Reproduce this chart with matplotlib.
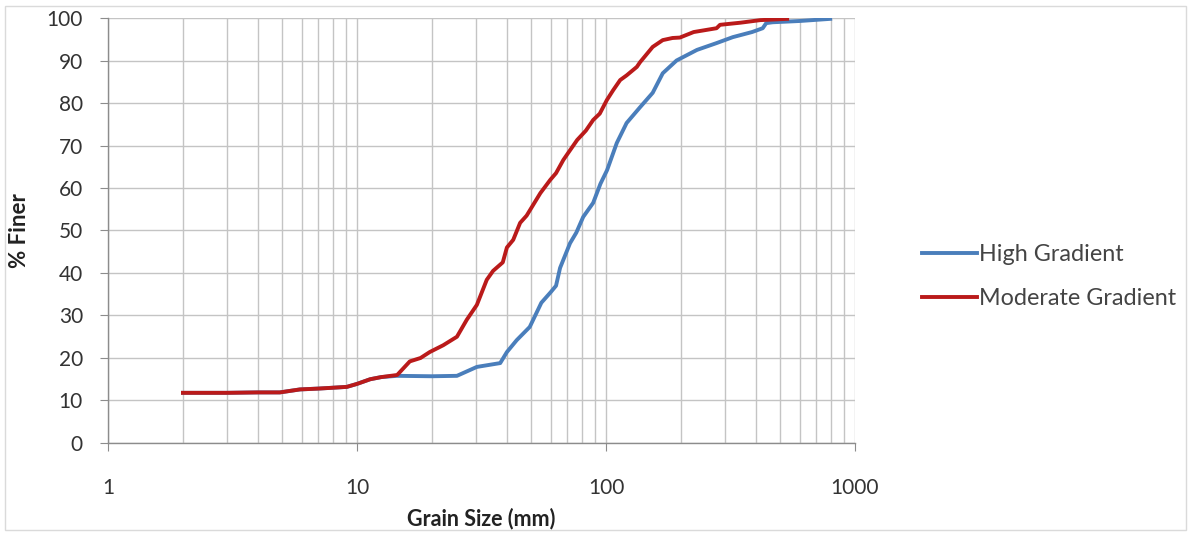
import matplotlib.pyplot as plt
import numpy as np
from matplotlib.patches import Rectangle
from matplotlib.ticker import FixedLocator, NullFormatter

plt.rcParams['font.family'] = ['Lato', 'DejaVu Sans']

# grain size distribution, moderate gradient reach
mod_size = [2, 3, 4, 4.9, 5.9, 7, 8, 9.1, 10, 11.3, 12.5, 14.5, 16.3, 18, 19.6, 22.2, 25.2,
            27.6, 30.3, 33.2, 35.2, 38.5, 40, 42.4, 45.2, 48, 54.5, 59.7, 63, 67.4, 70,
            76.6, 83, 88.8, 94.4, 100.8, 106.8, 114, 121, 133, 137, 154, 169, 185, 198,
            225, 278, 287, 347, 416, 534]
mod_finer = [11.8, 11.8, 11.9, 11.9, 12.6, 12.8, 13.0, 13.2, 13.9, 15.0, 15.5, 16.0, 19.2, 20.0,
             21.4, 23.0, 25.0, 29.0, 32.5, 38.4, 40.5, 42.5, 46.0, 47.8, 51.8, 53.5, 58.8, 61.9,
             63.5, 66.6, 68.0, 71.3, 73.5, 76.0, 77.5, 80.7, 83.0, 85.4, 86.5, 88.5, 89.6,
             93.2, 94.8, 95.3, 95.4, 96.7, 97.6, 98.4, 98.9, 99.5, 99.8]

# grain size distribution, high gradient reach
high_size = [2, 3, 4, 4.9, 5.9, 7, 8, 9.1, 10, 11.3, 12.5, 14.5, 20, 25.2, 30.3, 37.6, 40,
             43.8, 49.4, 55, 60, 63, 65.4, 71.7, 76, 81, 88.8, 95, 101, 110.5, 121, 137,
             154, 169, 192, 232, 278, 323, 386, 426, 440, 467, 600, 795]
high_finer = [11.8, 11.8, 11.9, 11.9, 12.6, 12.8, 13.0, 13.2, 13.9, 15.0, 15.5, 15.8, 15.7, 15.8,
              17.9, 18.8, 21.4, 24.2, 27.3, 33.0, 35.5, 37.0, 41.2, 47.0, 49.5, 53.2, 56.5,
              61.0, 64.2, 70.6, 75.3, 79.0, 82.4, 87.0, 90.0, 92.5, 94.1, 95.5, 96.7, 97.6,
              98.8, 99.0, 99.3, 99.8]

fig = plt.figure(figsize=(11.88, 5.33), dpi=100)
ax = fig.add_axes([0.0909, 0.1689, 0.6288, 0.7973])

ax.plot(high_size, high_finer, color='#4A7EBB', lw=2.8, label='High Gradient', solid_joinstyle='round')
ax.plot(mod_size, mod_finer, color='#BA1A1A', lw=2.8, label='Moderate Gradient', solid_joinstyle='round')

ax.set_xscale('log')
ax.set_xlim(1, 1000)
ax.set_ylim(0, 100)
ax.set_yticks(np.arange(0, 101, 10))
ax.set_xticks([1, 10, 100, 1000])
ax.set_xticklabels(['1', '10', '100', '1000'])
minors = [m * d for d in [1, 10, 100] for m in range(2, 10)]
ax.xaxis.set_minor_locator(FixedLocator(minors))
ax.xaxis.set_minor_formatter(NullFormatter())

ax.grid(True, which='both', color='#c4c4c4', lw=1.0)
ax.set_axisbelow(True)
for s in ['top', 'right']:
    ax.spines[s].set_visible(False)
for s in ['left', 'bottom']:
    ax.spines[s].set_color('#8c8c8c')
    ax.spines[s].set_linewidth(1.0)

ax.tick_params(axis='y', direction='out', length=6, color='#8c8c8c', labelsize=15,
               labelcolor='#333333', pad=12)
ax.tick_params(axis='x', which='major', direction='out', length=6, color='#8c8c8c',
               labelsize=15, labelcolor='#333333', pad=19)
ax.tick_params(axis='x', which='minor', length=0)

ax.set_xlabel('Grain Size (mm)', fontsize=15.5, fontweight='bold', color='#222222', labelpad=7)
ax.set_ylabel('% Finer', fontsize=16, fontweight='bold', color='#222222', labelpad=12)

leg = ax.legend(loc='center left', bbox_to_anchor=(1.062, 0.392), frameon=False,
                fontsize=16.8, handlelength=2.35, handletextpad=0.08, labelspacing=1.0)
for t in leg.get_texts():
    t.set_color('#444444')

fig.patches.append(Rectangle((0.004, 0.006), 0.994, 0.982, transform=fig.transFigure,
                             fill=False, edgecolor='#dadada', lw=1.0))

fig.savefig('out.png', dpi=100)
